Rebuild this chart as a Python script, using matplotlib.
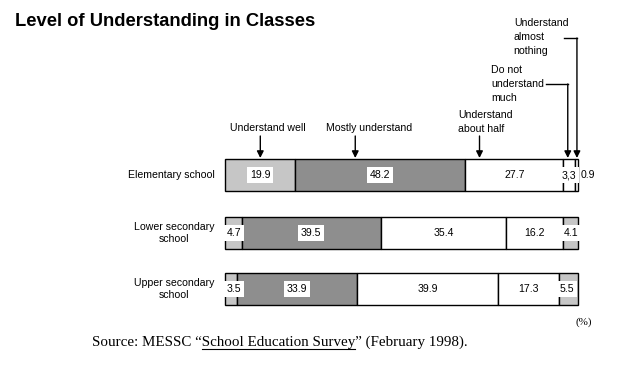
import matplotlib
matplotlib.use('Agg')
import matplotlib.pyplot as plt
import numpy as np

# data
schools = ['Elementary school', 'Lower secondary\nschool', 'Upper secondary\nschool']
categories = ['Understand well', 'Mostly understand', 'Understand about half',
              'Do not understand much', 'Understand almost nothing']
elementary = [19.9, 48.2, 27.7, 3.3, 0.9]
lower_secondary = [4.7, 39.5, 35.4, 16.2, 4.1]
upper_secondary = [3.5, 33.9, 39.9, 17.3, 5.5]
values = [elementary, lower_secondary, upper_secondary]

plt.rcParams['font.family'] = ['Liberation Sans', 'DejaVu Sans']

LIGHT = '#c6c6c6'
DARK = '#8e8e8e'
WHITE = '#ffffff'
row_colors = [
    [LIGHT, DARK, WHITE, WHITE, WHITE],
    [LIGHT, DARK, WHITE, WHITE, LIGHT],
    [LIGHT, DARK, WHITE, WHITE, LIGHT],
]
FS = 7.6

fig = plt.figure(figsize=(6.2, 3.65), dpi=100)
# bar axes: x in percent, y in pixel rows of the figure
ax = fig.add_axes([225 / 620, 0, 353 / 620, 1])
ax.set_xlim(0, 100)
ax.set_ylim(365, 0)
ax.axis('off')

row_y = [175, 233, 289]
bar_h = 32

for r, vals in enumerate(values):
    lefts = np.concatenate([[0], np.cumsum(vals)[:-1]])
    for i, (v, l) in enumerate(zip(vals, lefts)):
        ax.barh(row_y[r], v, left=l, height=bar_h, color=row_colors[r][i],
                edgecolor='black', linewidth=1.0, clip_on=False)
        label = f'{v:.1f}'
        if r == 0 and i == 3:
            label = '3,3'
        x = l + v / 2
        ha = 'center'
        if r == 0 and i == 4:
            x = l + v + 0.8
            ha = 'left'
        elif r > 0 and i == 4:
            x = l + 0.1
            ha = 'left'
        elif r > 0 and i == 0:
            x = l + 0.4
            ha = 'left'
        bbox = None
        if row_colors[r][i] != WHITE or (r == 0 and i == 3):
            bbox = dict(boxstyle='square,pad=0.25', fc='white', ec='none')
        ax.text(x, row_y[r], label, ha=ha, va='center', fontsize=FS,
                bbox=bbox, clip_on=False)
    ax.text(-3, row_y[r], schools[r], ha='right', va='center', fontsize=FS,
            multialignment='center', linespacing=1.35, clip_on=False)

# category annotations for the elementary row
arrow = dict(arrowstyle='-|>', color='black', lw=1.0, mutation_scale=10,
             shrinkA=0, shrinkB=0)
elem_left = np.concatenate([[0], np.cumsum(elementary)[:-1]])
top = row_y[0] - bar_h / 2 - 1

ax.annotate('', xy=(elem_left[0] + 10, top), xytext=(elem_left[0] + 10, 136), arrowprops=arrow)
ax.text(elem_left[0] + 12, 128, categories[0], ha='center', va='center', fontsize=FS)

ax.annotate('', xy=(elem_left[1] + 17, top), xytext=(elem_left[1] + 17, 136), arrowprops=arrow)
ax.text(elem_left[1] + 21, 128, categories[1], ha='center', va='center', fontsize=FS)

ax.annotate('', xy=(elem_left[2] + 4, top), xytext=(elem_left[2] + 4, 136), arrowprops=arrow)
ax.text(elem_left[2] - 2, 122, 'Understand\nabout half', ha='left', va='center',
        fontsize=FS, linespacing=1.45)

x4 = elem_left[3] + 1.3
ax.text(75.4, 84, 'Do not\nunderstand\nmuch', ha='left', va='center',
        fontsize=FS, linespacing=1.45)
ax.plot([91.0, x4], [84, 84], color='black', lw=1.0, clip_on=False)
ax.annotate('', xy=(x4, top), xytext=(x4, 84), arrowprops=arrow)

x5 = elem_left[4] + 0.6
ax.text(81.8, 37, 'Understand\nalmost\nnothing', ha='left', va='center',
        fontsize=FS, linespacing=1.45)
ax.plot([96.0, x5], [38, 38], color='black', lw=1.0, clip_on=False)
ax.annotate('', xy=(x5, top), xytext=(x5, 38), arrowprops=arrow)

fig.text(15 / 620, 1 - 22 / 365, 'Level of Understanding in Classes', fontsize=13.2,
         fontweight='bold', ha='left', va='center')
fig.text(584 / 620, 1 - 322 / 365, '(%)', fontsize=8, ha='center', va='center',
         family='Liberation Serif')

# source line, with the survey name underlined
prefix = 'Source: MESSC \u201c'
name = 'School Education Survey'
suffix = '\u201d (February 1998).'
src_y = 1 - 342 / 365
src = fig.text(92 / 620, src_y, prefix + name + suffix, fontsize=10.8,
               ha='left', va='center', family='Liberation Serif')
fig.canvas.draw()
renderer = fig.canvas.get_renderer()
probe1 = fig.text(92 / 620, src_y, prefix, fontsize=10.8, family='Liberation Serif')
probe2 = fig.text(92 / 620, src_y, prefix + name, fontsize=10.8, family='Liberation Serif')
x_start = probe1.get_window_extent(renderer).x1
x_end = probe2.get_window_extent(renderer).x1
probe1.remove()
probe2.remove()
W = fig.get_figwidth() * fig.dpi
fig.add_artist(plt.Line2D([x_start / W, x_end / W], [1 - 349 / 365, 1 - 349 / 365],
                          color='black', lw=0.8))

fig.savefig('out.png', dpi=100)
